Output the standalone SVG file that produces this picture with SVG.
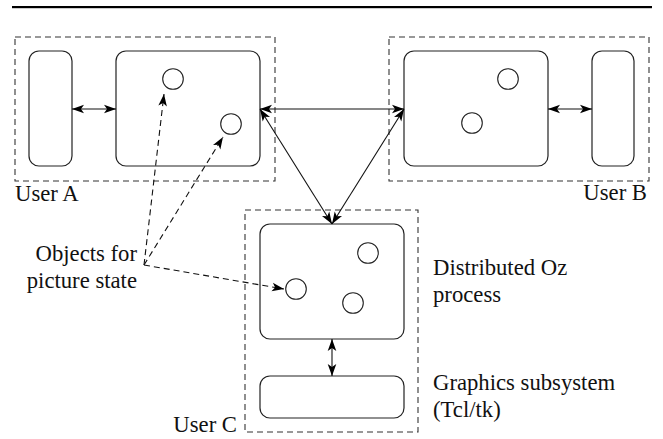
<svg xmlns="http://www.w3.org/2000/svg" width="663" height="439" viewBox="0 0 663 439">
<defs>
<style>
.box{fill:none;stroke:#222;stroke-width:1.2}
.grp{fill:none;stroke:#333;stroke-width:1.1;stroke-dasharray:6 4}
.obj{fill:none;stroke:#222;stroke-width:1.1}
.link{fill:none;stroke:#111;stroke-width:1.1;marker-start:url(#ah);marker-end:url(#ah)}
.ptr{fill:none;stroke:#111;stroke-width:1.1;stroke-dasharray:6 4;marker-end:url(#ah)}
.lbl{font-family:'Liberation Serif','Times New Roman',serif;font-size:22.7px;fill:#111}
</style>
<marker id="ah" viewBox="-13 -5 14 10" refX="0" refY="0" markerWidth="14" markerHeight="10" markerUnits="userSpaceOnUse" orient="auto-start-reverse">
<path d="M0,0 L-12,-4.3 L-9,0 L-12,4.3 Z" fill="#000"/>
</marker>
</defs>
<rect x="12" y="6" width="640" height="2.2" fill="#000"/>

<g id="userA">
<rect class="grp" x="15" y="37" width="260" height="144"/>
<text class="lbl" x="15" y="201">User A</text>
</g>
<g id="userA-ui"><rect class="box" x="29" y="51" width="43" height="115" rx="10"/></g>
<g id="userA-proc">
<rect class="box" x="116" y="51" width="144" height="115" rx="10"/>
<circle class="obj" cx="173" cy="79" r="10.3"/>
<circle class="obj" cx="231" cy="124" r="10.3"/>
</g>

<g id="userB">
<rect class="grp" x="389" y="37" width="260" height="144"/>
<text class="lbl" x="647" y="200" text-anchor="end">User B</text>
</g>
<g id="userB-proc">
<rect class="box" x="404" y="51" width="144" height="115" rx="10"/>
<circle class="obj" cx="508" cy="79" r="10.3"/>
<circle class="obj" cx="472" cy="123" r="10.3"/>
</g>
<g id="userB-ui"><rect class="box" x="592" y="51" width="42" height="115" rx="10"/></g>

<g id="userC">
<rect class="grp" x="245" y="210" width="173" height="222"/>
<text class="lbl" x="237" y="432" text-anchor="end">User C</text>
</g>
<g id="userC-proc">
<rect class="box" x="260" y="224" width="144" height="115" rx="10"/>
<circle class="obj" cx="368" cy="253" r="10.3"/>
<circle class="obj" cx="296" cy="289" r="10.3"/>
<circle class="obj" cx="353" cy="303" r="10.3"/>
<text class="lbl" x="433" y="275">Distributed Oz</text>
<text class="lbl" x="433" y="302">process</text>
</g>
<g id="userC-gfx">
<rect class="box" x="260" y="376" width="144" height="42" rx="10"/>
<text class="lbl" x="433" y="390">Graphics subsystem</text>
<text class="lbl" x="433" y="417">(Tcl/tk)</text>
</g>

<g id="objects-label">
<text class="lbl" x="137" y="261" text-anchor="end">Objects for</text>
<text class="lbl" x="137" y="288" text-anchor="end">picture state</text>
</g>

<g id="connectors">
<line class="link" x1="72" y1="109" x2="116" y2="109"/>
<line class="link" x1="548" y1="109" x2="592" y2="109"/>
<line class="link" x1="260" y1="109" x2="404" y2="109"/>
<line class="link" x1="260" y1="109" x2="332" y2="224"/>
<line class="link" x1="404" y1="109" x2="332" y2="224"/>
<line class="link" x1="332" y1="339" x2="332" y2="376"/>
<line class="ptr" x1="144" y1="265" x2="164" y2="94"/>
<line class="ptr" x1="144" y1="265" x2="223" y2="137"/>
<line class="ptr" x1="144" y1="265" x2="284" y2="289"/>
</g>
</svg>
